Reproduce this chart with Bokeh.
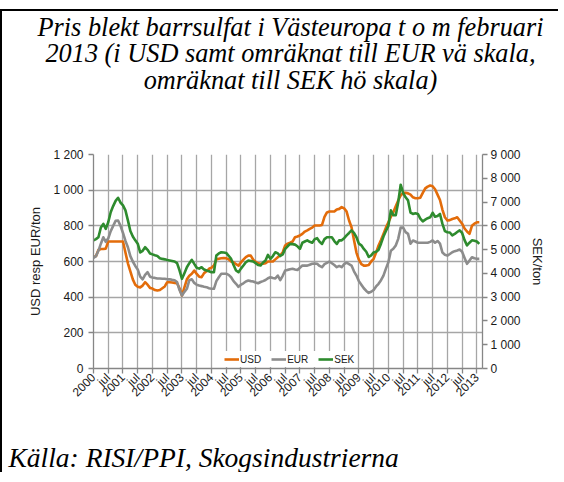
import math
from bokeh.plotting import figure
from bokeh.layouts import column
from bokeh.models import Range1d, LinearAxis, FixedTicker, Legend, LegendItem
from bokeh.core.properties import value
from bokeh.embed import file_html
from bokeh.resources import INLINE

# ---------------- data ----------------
TITLE_LINES = [
    "Pris blekt barrsulfat i Västeuropa t o m februari",
    "2013 (i USD samt omräknat till EUR vä skala,",
    "omräknat till SEK hö skala)",
]
SOURCE_TEXT = "Källa: RISI/PPI, Skogsindustrierna"
Y_LEFT_TITLE = "USD resp EUR/ton"
Y_RIGHT_TITLE = "SEK/ton"
SERIES_NAMES = ["USD", "EUR", "SEK"]

# monthly values, January 2000 .. February 2013
usd = [625, 630, 665, 670, 670, 672, 712, 712, 712, 712,
       712, 712, 712, 650, 590, 545, 500, 470, 458, 455,
       465, 484, 470, 452, 448, 440, 437, 440, 450, 460,
       484, 484, 482, 480, 478, 450, 409, 455, 500, 520,
       531, 549, 530, 515, 512, 535, 545, 559, 565, 577,
       612, 615, 618, 620, 618, 612, 600, 596, 585, 577,
       595, 611, 625, 633, 633, 610, 598, 590, 587, 587,
       590, 600, 600, 600, 612, 624, 635, 652, 690, 700,
       705, 712, 736, 740, 746, 755, 768, 775, 783, 790,
       802, 802, 802, 805, 850, 875, 880, 880, 880, 892,
       895, 905, 898, 880, 830, 792, 720, 650, 610, 585,
       577, 577, 580, 600, 615, 650, 690, 720, 755, 790,
       820, 850, 876, 910, 942, 970, 985, 985, 982, 975,
       960, 955, 955, 958, 985, 1010, 1020, 1026, 1022, 1005,
       975, 945, 890, 848, 830, 832, 838, 842, 848, 830,
       812, 785, 768, 755, 800, 812, 820, 820]

eur = [620, 630, 660, 700, 736, 710, 730, 770, 800, 828,
       830, 800, 760, 715, 680, 630, 600, 575, 555, 515,
       500, 525, 540, 515, 510, 508, 505, 505, 503, 503,
       500, 500, 497, 495, 485, 440, 409, 430, 447, 495,
       500, 480, 470, 465, 462, 458, 456, 450, 447, 447,
       490, 512, 531, 531, 531, 525, 512, 490, 475, 458,
       470, 478, 488, 493, 490, 488, 482, 478, 485, 490,
       496, 506, 512, 508, 505, 521, 495, 520, 549, 553,
       556, 559, 555, 552, 565, 577, 578, 577, 582, 587,
       588, 587, 575, 568, 585, 592, 600, 590, 580, 568,
       575, 568, 585, 593, 585, 577, 545, 521, 490, 470,
       450, 435, 424, 430, 440, 460, 475, 495, 521, 560,
       596, 660, 671, 690, 727, 790, 790, 765, 755, 700,
       718, 712, 705, 705, 705, 705, 705, 710, 718, 705,
       715, 700, 650, 638, 633, 642, 652, 658, 662, 667,
       655, 620, 587, 605, 624, 618, 615, 615]

sek = [5390, 5440, 5520, 5930, 6080, 5870, 6150, 6570, 6830, 7050,
       7180, 6980, 6860, 6650, 6230, 5780, 5550, 5390, 5250, 4880,
       4950, 5100, 4990, 4840, 4800, 4760, 4730, 4640, 4610, 4590,
       4560, 4540, 4520, 4500, 4430, 4130, 3770, 4010, 4260, 4430,
       4570, 4400, 4240, 4200, 4260, 4160, 4120, 4090, 4050, 4050,
       4750, 4840, 4890, 4880, 4860, 4740, 4610, 4350, 4120, 4050,
       4200, 4330, 4470, 4540, 4520, 4500, 4430, 4350, 4330, 4460,
       4540, 4780, 4610, 4730, 4890, 4840, 4730, 4800, 5030, 5140,
       5240, 5230, 5210, 5140, 5030, 5290, 5340, 5390, 5330, 5290,
       5440, 5480, 5330, 5240, 5440, 5520, 5520, 5520, 5360, 5240,
       5390, 5390, 5480, 5600, 5700, 5810, 5700, 5520, 5250, 5180,
       5030, 4910, 4690, 4760, 4880, 4910, 4990, 5250, 5550, 5780,
       6000, 6650, 6450, 6450, 6990, 7730, 7390, 7200, 7070, 6560,
       6500, 6530, 6500, 6300, 6190, 6260, 6320, 6360, 6550, 6380,
       6410, 6500, 6080, 5780, 5730, 5720, 5600, 5660, 5740, 5810,
       5700, 5400, 5180, 5290, 5390, 5370, 5340, 5240]

months = list(range(len(usd)))  # 0 = Jan 2000

X_TICKS = list(range(0, 157, 6))
X_TICK_LABELS = ["2000", "jul", "2001", "jul", "2002", "jul", "2003", "jul",
                 "2004", "jul", "2005", "jul", "2006", "jul", "2007", "jul",
                 "2008", "jul", "2009", "jul", "2010", "jul", "2011", "jul",
                 "2012", "jul", "2013"]
LEFT_TICKS = [0, 200, 400, 600, 800, 1000, 1200]
LEFT_TICK_LABELS = ["0", "200", "400", "600", "800", "1 000", "1 200"]
RIGHT_TICKS = [0, 1000, 2000, 3000, 4000, 5000, 6000, 7000, 8000, 9000]
RIGHT_TICK_LABELS = ["0", "1 000", "2 000", "3 000", "4 000", "5 000",
                     "6 000", "7 000", "8 000", "9 000"]

# ---------------- style ----------------
SANS = "Liberation Sans"
SERIF = "Liberation Serif"
C_USD = "#E36C0A"
C_EUR = "#8C8C8C"
C_SEK = "#2E8B2E"
AXIS_C = "#868686"
GRID_C = "#A6A6A6"
LABEL_C = "#1A1A1A"
W = 556


def text_panel(h):
    """A figure whose whole canvas is its frame, used for free text."""
    f = figure(width=W, height=h, output_backend="svg", toolbar_location=None,
               title=None, x_range=Range1d(0, W), y_range=Range1d(0, h),
               x_axis_type=None, y_axis_type=None, min_border=0,
               outline_line_color=None, background_fill_color="white",
               border_fill_color="white", frame_align=False)
    f.grid.visible = False
    return f


# ---- white strip above the frame line ----
top_gap = text_panel(9)

# ---- title block ----
TH = 135
tfig = text_panel(TH)
tfig.text(x=[288, 288, 288], y=[TH - 15.5, TH - 42, TH - 68.5], text=TITLE_LINES,
          text_align="center", text_baseline="alphabetic",
          text_font=value(SERIF), text_font_style="italic",
          text_font_size=value("26.3px"), text_color="black")

# ---- main chart ----
p = figure(width=W, height=282, output_backend="svg", toolbar_location=None,
           title=None, frame_align=False,
           x_range=Range1d(0, 158.3), y_range=Range1d(0, 1200),
           min_border_left=91, min_border_right=76, min_border_top=8,
           min_border_bottom=60, background_fill_color="white",
           border_fill_color="white", outline_line_color=None)
p.extra_y_ranges = {"sek": Range1d(0, 9000)}

xa = p.below[0]
xa.ticker = FixedTicker(ticks=X_TICKS, minor_ticks=[])
xa.major_label_overrides = dict(zip(X_TICKS, X_TICK_LABELS))
xa.major_label_orientation = math.pi / 4
xa.major_label_standoff = 2

ya = p.left[0]
ya.ticker = FixedTicker(ticks=LEFT_TICKS, minor_ticks=[])
ya.major_label_overrides = dict(zip(LEFT_TICKS, LEFT_TICK_LABELS))
ya.axis_label = Y_LEFT_TITLE
ya.major_label_standoff = 5
ya.axis_label_standoff = 7

ra = LinearAxis(y_range_name="sek", axis_label=Y_RIGHT_TITLE,
                ticker=FixedTicker(ticks=RIGHT_TICKS, minor_ticks=[]))
ra.major_label_overrides = dict(zip(RIGHT_TICKS, RIGHT_TICK_LABELS))
ra.major_label_standoff = 3
ra.axis_label_standoff = 6
p.add_layout(ra, "right")

for ax in (xa, ya, ra):
    ax.axis_line_color = AXIS_C
    ax.axis_line_width = 1.3
    ax.major_tick_line_color = AXIS_C
    ax.major_tick_line_width = 1.3
    ax.minor_tick_line_color = None
    ax.major_tick_out = 5
    ax.major_tick_in = 0
    ax.major_label_text_font = SANS
    ax.major_label_text_font_size = "12px"
    ax.major_label_text_color = LABEL_C
    ax.axis_label_text_font = SANS
    ax.axis_label_text_font_size = "13px"
    ax.axis_label_text_font_style = "normal"
    ax.axis_label_text_color = LABEL_C

p.xgrid.grid_line_color = GRID_C
p.xgrid.grid_line_width = 1.3
p.ygrid.grid_line_color = GRID_C
p.ygrid.grid_line_width = 1.3

r_usd = p.line(months, usd, line_color=C_USD, line_width=2.6, line_join="round")
r_eur = p.line(months, eur, line_color=C_EUR, line_width=2.6, line_join="round")
r_sek = p.line(months, sek, line_color=C_SEK, line_width=2.6, line_join="round",
               y_range_name="sek")

legend = Legend(items=[LegendItem(label=SERIES_NAMES[0], renderers=[r_usd]),
                       LegendItem(label=SERIES_NAMES[1], renderers=[r_eur]),
                       LegendItem(label=SERIES_NAMES[2], renderers=[r_sek])],
                orientation="horizontal", location=(131, 1),
                background_fill_color="white", background_fill_alpha=1.0,
                border_line_color=None, label_text_font=SANS,
                label_text_font_size="10px", label_text_color=LABEL_C,
                glyph_width=15, glyph_height=16, label_height=16,
                label_standoff=1, spacing=10, padding=4, margin=0)
p.add_layout(legend)

# ---- source line ----
SH = 44
sfig = text_panel(SH)
sfig.text(x=[6], y=[15.5], text=[SOURCE_TEXT], text_align="left",
          text_baseline="alphabetic", text_font=value(SERIF),
          text_font_style="italic", text_font_size=value("27.5px"),
          text_color="black")

boxed = column(tfig, p, sfig, spacing=0,
               styles={"border-left": "2px solid black",
                       "border-top": "2px solid black"})
page = column(top_gap, boxed, spacing=0)

open("out.html", "w").write(file_html(page, INLINE))
